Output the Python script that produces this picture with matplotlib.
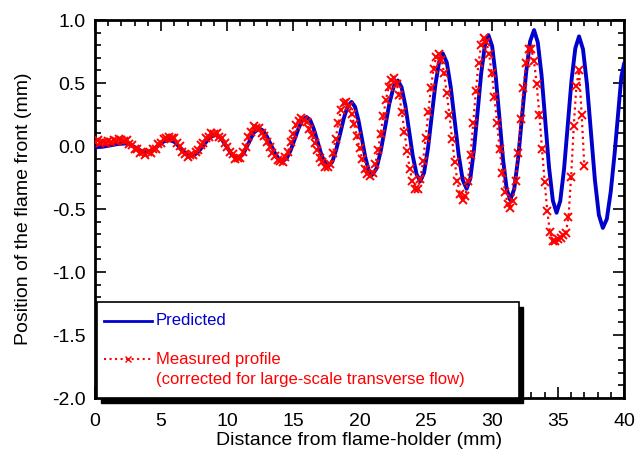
import numpy as np
import matplotlib
matplotlib.use("Agg")
import matplotlib.pyplot as plt
from matplotlib.patches import Rectangle
from matplotlib.lines import Line2D
from matplotlib.ticker import MultipleLocator, FormatStrFormatter

plt.rcParams['font.family'] = ['Liberation Sans', 'DejaVu Sans']
plt.rcParams['axes.unicode_minus'] = False

# predicted flame front (mm vs mm)
pred_x = [0, 0.575, 1.15, 1.725,
          2.3, 2.7, 3.1, 3.5,
          3.9, 4.33, 4.75, 5.18,
          5.6, 6.03, 6.45, 6.88,
          7.3, 7.75, 8.2, 8.65,
          9.1, 9.53, 9.95, 10.38,
          10.8, 11.2, 11.6, 12.0,
          12.4, 12.7, 13.0, 13.3, 13.6, 13.9,
          14.2, 14.5, 14.8, 15.1, 15.4, 15.7,
          16.0, 16.28, 16.55, 16.83, 17.1, 17.38,
          17.65, 17.94, 18.23, 18.53, 18.82, 19.11,
          19.4, 19.66, 19.92, 20.18, 20.43, 20.69,
          20.95, 21.28, 21.6, 21.93, 22.25, 22.58,
          22.9, 23.18, 23.47, 23.75, 24.03, 24.32,
          24.6, 24.88, 25.17, 25.45, 25.73, 26.02,
          26.3, 26.6, 26.9, 27.2, 27.5, 27.8,
          28.1, 28.38, 28.65, 28.93, 29.2, 29.48,
          29.75, 30.03, 30.3, 30.58, 30.85, 31.13,
          31.4, 31.7, 32.0, 32.3, 32.6, 32.9,
          33.2, 33.48, 33.77, 34.05, 34.33, 34.62,
          34.9, 35.18, 35.47, 35.75, 36.03, 36.32,
          36.6, 36.9, 37.2, 37.5, 37.8, 38.1,
          38.4, 38.7, 39.0, 39.3, 39.55, 39.8,
          40.0]
pred_y = [-0.01, -0.006, 0.005, 0.016,
          0.02, 0.010, -0.015, -0.040,
          -0.05, -0.035, 0.0, 0.035,
          0.05, 0.031, -0.015, -0.061,
          -0.08, -0.055, 0.005, 0.065,
          0.09, 0.062, -0.005, -0.072,
          -0.10, -0.065, 0.02, 0.105,
          0.14, 0.123, 0.075, 0.010, -0.055, -0.103,
          -0.12, -0.097, -0.033, 0.055, 0.143, 0.207,
          0.23, 0.204, 0.133, 0.035, -0.063, -0.134,
          -0.16, -0.126, -0.033, 0.095, 0.223, 0.316,
          0.35, 0.311, 0.205, 0.06, -0.085, -0.191,
          -0.23, -0.18, -0.043, 0.145, 0.333, 0.47,
          0.52, 0.466, 0.32, 0.12, -0.08, -0.226,
          -0.28, -0.212, -0.026, 0.228, 0.481, 0.667,
          0.735, 0.663, 0.466, 0.198, -0.071, -0.268,
          -0.34, -0.258, -0.035, 0.27, 0.575, 0.798,
          0.88, 0.792, 0.553, 0.225, -0.103, -0.342,
          -0.43, -0.34, -0.093, 0.245, 0.583, 0.83,
          0.92, 0.823, 0.558, 0.195, -0.168, -0.433,
          -0.53, -0.436, -0.18, 0.17, 0.52, 0.776,
          0.87, 0.768, 0.49, 0.11, -0.27, -0.548,
          -0.65, -0.58, -0.36, -0.05, 0.25, 0.55,
          0.65]

# measured profile, sampled every 0.2 mm (one row per mm)
meas_step = 0.2
meas_y = [0.03, 0.045, 0.02, 0.035, 0.025,
          0.04, 0.03, 0.05, 0.04, 0.055,
          0.05, 0.04, 0.045, 0.015, 0.01,
          -0.02, -0.025, -0.055, -0.05, -0.07,
          -0.05, -0.055, -0.02, -0.02, 0.015,
          0.025, 0.055, 0.06, 0.075, 0.065,
          0.06, 0.02, 0.0, -0.045, -0.06,
          -0.085, -0.07, -0.075, -0.045, -0.035,
          0.005, 0.02, 0.06, 0.075, 0.1,
          0.095, 0.105, 0.075, 0.065, 0.02,
          -0.005, -0.05, -0.065, -0.1, -0.095,
          -0.095, -0.05, -0.005, 0.07, 0.11,
          0.155, 0.14, 0.14, 0.105, 0.08,
          0.03, -0.005, -0.055, -0.08, -0.115,
          -0.12, -0.13, -0.085, -0.045, 0.035,
          0.095, 0.17, 0.2, 0.225, 0.21,
          0.19, 0.135, 0.09, 0.02, -0.03,
          -0.095, -0.13, -0.165, -0.17, -0.14,
          -0.058, 0.059, 0.184, 0.285, 0.343,
          0.346, 0.315, 0.255, 0.173, 0.079,
          -0.018, -0.104, -0.179, -0.224, -0.24,
          -0.216, -0.143, -0.034, 0.098, 0.237,
          0.368, 0.466, 0.526, 0.538, 0.496,
          0.403, 0.268, 0.115, -0.043, -0.182,
          -0.278, -0.343, -0.34, -0.265, -0.123,
          0.063, 0.267, 0.46, 0.612, 0.708,
          0.728, 0.681, 0.577, 0.42, 0.246,
          0.054, -0.125, -0.279, -0.381, -0.428,
          -0.40, -0.276, -0.07, 0.18, 0.436,
          0.656, 0.804, 0.855, 0.823, 0.727,
          0.578, 0.391, 0.183, -0.026, -0.213,
          -0.362, -0.458, -0.49, -0.435, -0.28,
          -0.052, 0.211, 0.463, 0.659, 0.766,
          0.768, 0.671, 0.49, 0.249, -0.024,
          -0.283, -0.518, -0.683, -0.757, -0.75,
          -0.74, -0.73, -0.71, -0.69, -0.567,
          -0.245, 0.155, 0.477, 0.60, 0.25,
          -0.16]
meas_x = np.arange(len(meas_y)) * meas_step

blue = '#0000cc'
red = '#ff0000'

fig = plt.figure(figsize=(6.36, 4.61), dpi=100)
ax = fig.add_axes([95 / 636, 63 / 461, 529 / 636, 378 / 461])

ax.plot(pred_x, pred_y, color=blue, lw=2.8, zorder=3)
ax.plot(meas_x, meas_y, color=red, ls=':', lw=1.6, marker='x', ms=6,
        mew=1.4, zorder=4)

ax.set_xlim(0, 40)
ax.set_ylim(-2.0, 1.0)
ax.xaxis.set_major_locator(MultipleLocator(5))
ax.xaxis.set_minor_locator(MultipleLocator(1))
ax.yaxis.set_major_locator(MultipleLocator(0.5))
ax.yaxis.set_minor_locator(MultipleLocator(0.1))
ax.yaxis.set_major_formatter(FormatStrFormatter('%.1f'))
ax.tick_params(which='both', direction='in', top=True, right=True,
               width=1.2, labelsize=14)
ax.tick_params(which='major', length=8)
ax.tick_params(which='minor', length=4)
ax.tick_params(axis='x', which='major', pad=11)
ax.tick_params(axis='y', which='major', pad=7)
for s in ax.spines.values():
    s.set_linewidth(2)

ax.set_xlabel('Distance from flame-holder (mm)', fontsize=14, labelpad=1)
ax.set_ylabel('Position of the flame front (mm)', fontsize=14, labelpad=14)

# legend box with black drop shadow
bx, by, bw, bh = 0.004, 0.0, 0.797, 0.254
ax.add_patch(Rectangle((bx + 0.008, by - 0.012), bw, bh, transform=ax.transAxes,
                       facecolor='black', edgecolor='black', zorder=6,
                       clip_on=False))
ax.add_patch(Rectangle((bx, by), bw, bh, transform=ax.transAxes,
                       facecolor='white', edgecolor='black', lw=1.2, zorder=7,
                       clip_on=False))
ax.add_line(Line2D([0.017, 0.108], [0.204, 0.204], transform=ax.transAxes,
                   color=blue, lw=2, zorder=8))
ax.add_line(Line2D([0.017, 0.108], [0.103, 0.103], transform=ax.transAxes,
                   color=red, lw=1.5, ls=':', zorder=8))
ax.add_line(Line2D([0.0625], [0.103], transform=ax.transAxes, color=red,
                   marker='x', ms=4, mew=1, zorder=8))
ax.text(0.115, 0.204, 'Predicted', color=blue, fontsize=12,
        transform=ax.transAxes, va='center', zorder=9)
ax.text(0.115, 0.103, 'Measured profile', color=red, fontsize=12,
        transform=ax.transAxes, va='center', zorder=9)
ax.text(0.115, 0.048, '(corrected for large-scale transverse flow)', color=red,
        fontsize=12, transform=ax.transAxes, va='center', zorder=9)

fig.savefig('out.png', dpi=100)
